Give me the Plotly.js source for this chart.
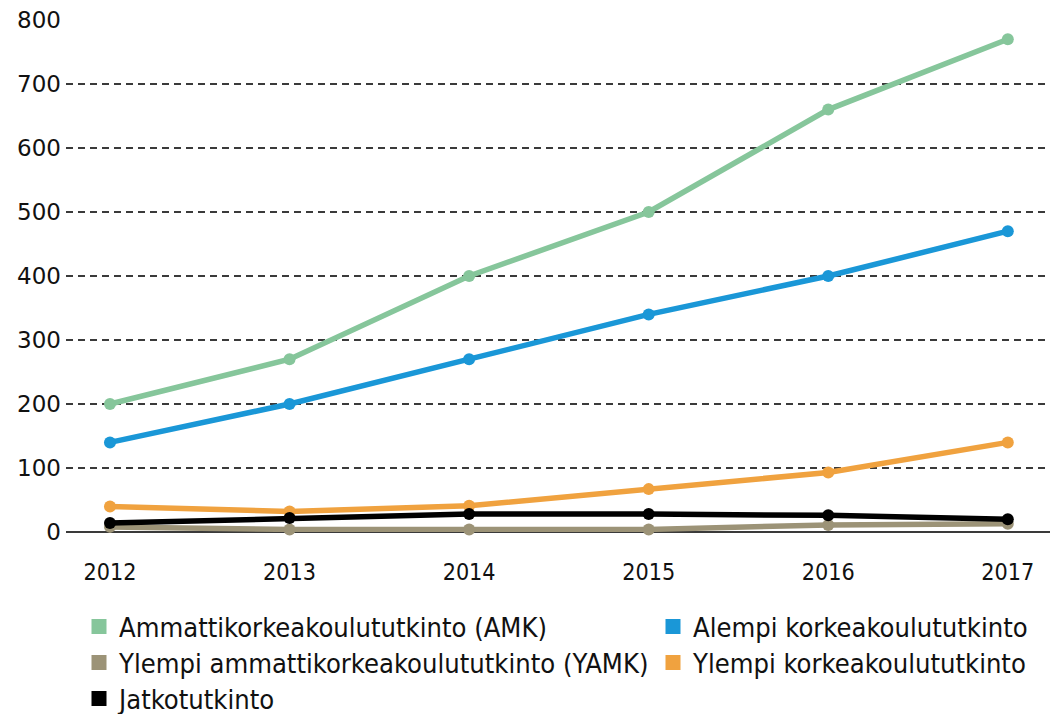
<!DOCTYPE html>
<html>
<head>
<meta charset="utf-8">
<script src="https://cdn.plot.ly/plotly-3.0.1.min.js"></script>
<style>html,body{margin:0;padding:0;background:#fff;}#chart{width:1050px;height:714px;}</style>
</head>
<body>
<div id="chart"></div>
<script>
const years = [2012, 2013, 2014, 2015, 2016, 2017];
const seriesNames = [
  "Ammattikorkeakoulututkinto (AMK)",
  "Alempi korkeakoulututkinto",
  "Ylempi ammattikorkeakoulututkinto (YAMK)",
  "Ylempi korkeakoulututkinto",
  "Jatkotutkinto"
];
const amk = [200, 270, 400, 500, 660, 770];
const alempi = [140, 200, 270, 340, 400, 470];
const yamk = [8, 4, 4, 4, 11, 13];
const ylempi = [40, 32, 41, 67, 93, 140];
const jatko = [14, 22, 28, 28, 26, 20];
const yTicks = [0, 100, 200, 300, 400, 500, 600, 700, 800];

const colors = ["#86c69b", "#1a97d7", "#9c9377", "#f0a23f", "#000000"];
const values = [amk, alempi, yamk, ylempi, jatko];

// legend slot of each series: [column x of square centre, row y centre] in pixels
const legendCol = [99, 673, 99, 673, 99];
const legendRow = [627, 627, 663, 663, 699];

function fitSize(text, family, targetW) {
  const c = document.createElement("canvas").getContext("2d");
  c.font = "100px " + family;
  return 100 * targetW / c.measureText(text).width;
}
const condFam = "'DejaVu Sans Condensed'";
const legendSize = fitSize(seriesNames[0], condFam, 428);
const xTickSize = fitSize("2012", condFam, 53);

const traces = [];
[0, 1, 2, 3, 4].forEach(i => {
  traces.push({
    x: years, y: values[i], type: "scatter", mode: "lines+markers",
    line: {color: colors[i], width: 5.5},
    marker: {color: colors[i], size: 12},
    cliponaxis: false, showlegend: false, hoverinfo: "skip"
  });
});

const W = 1050, H = 714;
const layout = {
  width: W, height: H,
  margin: {l: 66, r: 0, t: 20, b: 182, autoexpand: false},
  paper_bgcolor: "#fff", plot_bgcolor: "#fff",
  showlegend: true,
  xaxis: {
    range: [2011.755, 2017.235], tickvals: years, ticktext: years.map(String),
    showgrid: false, zeroline: false, showline: false, ticks: "",
    tickangle: 0, automargin: false,
    tickfont: {family: "DejaVu Sans Condensed, DejaVu Sans", size: xTickSize, color: "#111"},
    ticklabelstandoff: 24, fixedrange: true
  },
  yaxis: {
    range: [0, 800], tickvals: yTicks, ticktext: yTicks.map(String),
    showgrid: true, gridcolor: "#3a3a3a", gridwidth: 1.5, griddash: "7px,5px",
    zeroline: true, zerolinecolor: "#3a3a3a", zerolinewidth: 1.8,
    showline: false, ticks: "", automargin: false,
    tickfont: {family: "DejaVu Sans", size: 23, color: "#111"},
    ticklabelstandoff: 4, fixedrange: true
  }
};

[0, 1, 2, 3, 4].forEach((i, k) => {
  const key = k === 0 ? "legend" : "legend" + (k + 1);
  traces.push({
    x: [null], y: [null], type: "scatter", mode: "markers",
    name: seriesNames[i], legend: key,
    marker: {color: colors[i], size: 15, symbol: "square"},
    showlegend: true
  });
  layout[key] = {
    xref: "container", yref: "container",
    x: (legendCol[i] - 20) / W, y: (H - legendRow[i]) / H,
    xanchor: "left", yanchor: "middle", orientation: "v",
    font: {family: "DejaVu Sans Condensed, DejaVu Sans", size: legendSize, color: "#111"},
    bgcolor: "rgba(0,0,0,0)", borderwidth: 0
  };
});

Plotly.newPlot("chart", traces, layout, {displayModeBar: false, staticPlot: true});
</script>
</body>
</html>
